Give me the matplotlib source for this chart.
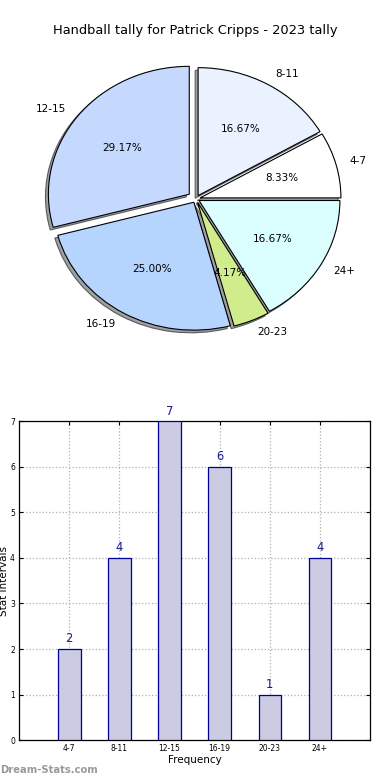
import matplotlib
matplotlib.use("Agg")
import matplotlib.pyplot as plt

categories = ["4-7", "8-11", "12-15", "16-19", "20-23", "24+"]
counts = [2, 4, 7, 6, 1, 4]
pie_colors = ["#ffffff", "#eaf1ff", "#c5d9ff", "#b5d5ff", "#d0ec8c", "#dbffff"]
explode = [0.03, 0.03, 0.06, 0.03, 0.03, 0.025]

fig = plt.figure(figsize=(3.9, 7.8), dpi=100)

# pie (old style: not equal aspect, so a bit wider than tall)
ax1 = fig.add_axes([0.051, 0.54, 0.903, 0.41])
wedges, texts, autotexts = ax1.pie(
    counts, labels=categories, colors=pie_colors, explode=explode,
    autopct="%1.2f%%", startangle=0,
    shadow={"ox": -0.015, "oy": -0.015, "facecolor": "#888888", "alpha": 0.8},
    wedgeprops=dict(edgecolor="black", linewidth=0.8),
    textprops=dict(fontsize=7.5))
ax1.set_aspect("auto")
ax1.set_xlim(-1.25, 1.25)
ax1.set_ylim(-1.25, 1.25)
fig.text(0.5, 0.961, "Handball tally for Patrick Cripps - 2023 tally",
         ha="center", va="center", fontsize=9.4)

# bar chart
ax2 = fig.add_axes([0.049, 0.051, 0.9, 0.409])
x = range(len(categories))
ax2.bar(x, counts, width=0.45, color="#cbcbe3", edgecolor="#000099", linewidth=0.9, zorder=3)
for xi, v in zip(x, counts):
    ax2.text(xi, v + 0.08, str(v), ha="center", va="bottom", fontsize=8.3, color="#1a1a8c", zorder=4)
ax2.set_xlim(-1, 6)
ax2.set_ylim(0, 7)
ax2.set_xticks(list(x))
ax2.set_xticklabels(categories)
ax2.set_yticks(range(8))
ax2.tick_params(direction="in", top=True, right=True, labelsize=5.5, length=3, pad=3)
ax2.grid(True, linestyle=":", color="#b0b0b0", linewidth=0.9, zorder=0)
ax2.set_xlabel("Frequency", fontsize=7.5, labelpad=1)
ax2.set_ylabel("Stat Intervals", fontsize=7.5)
ax2.yaxis.set_label_coords(-0.03, 0.5)
for s in ax2.spines.values():
    s.set_linewidth(0.9)

fig.text(0.0, 0.013, "Dream-Stats.com", ha="left", va="center", fontsize=7.2,
         fontweight="bold", color="#9a9a9a")

fig.savefig("out.png", dpi=100)
